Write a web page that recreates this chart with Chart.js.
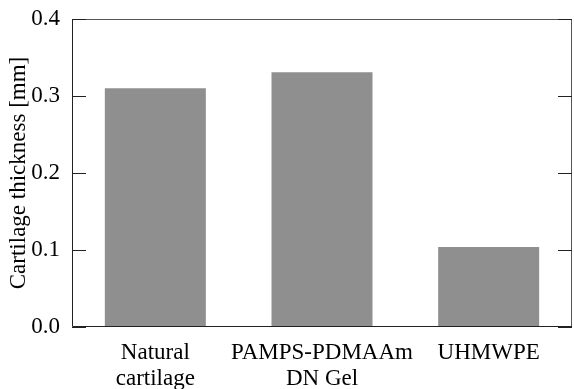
<!DOCTYPE html>
<html>
<head>
<meta charset="utf-8">
<script src="https://cdn.jsdelivr.net/npm/chart.js@4/dist/chart.umd.min.js"></script>
<style>
html,body{margin:0;padding:0;background:#fff;}
#wrap{width:574px;height:389px;position:relative;}
</style>
</head>
<body>
<div id="wrap"><canvas id="c" width="574" height="389"></canvas></div>
<script>
const categories = [["Natural", "cartilage"], ["PAMPS-PDMAAm", "DN Gel"], ["UHMWPE"]];
const thickness = [0.310, 0.331, 0.104];
const yTicks = [0.0, 0.1, 0.2, 0.3, 0.4];
const yTitle = "Cartilage thickness [mm]";

const SERIF = "'Liberation Serif', 'DejaVu Serif', serif";

const frame = {
  id: 'frame',
  afterDatasetsDraw(chart) {
    const {ctx, chartArea: a, scales} = chart;
    ctx.save();
    ctx.lineWidth = 1;
    ctx.strokeStyle = '#555';
    ctx.beginPath();
    ctx.moveTo(a.left, a.top + 0.5); ctx.lineTo(a.right - 0.5, a.top + 0.5); ctx.lineTo(a.right - 0.5, a.bottom);
    ctx.stroke();
    ctx.strokeStyle = '#222';
    ctx.beginPath();
    ctx.moveTo(a.left + 0.5, a.top); ctx.lineTo(a.left + 0.5, a.bottom - 0.5); ctx.lineTo(a.right, a.bottom - 0.5);
    ctx.stroke();
    const y = scales.y;
    yTicks.forEach(v => {
      const py = Math.round(y.getPixelForValue(v)) + 0.5;
      ctx.beginPath();
      ctx.moveTo(a.left, py); ctx.lineTo(a.left + 14, py);
      ctx.moveTo(a.right, py); ctx.lineTo(a.right - 14, py);
      ctx.stroke();
    });
    ctx.restore();
  }
};

new Chart(document.getElementById('c'), {
  type: 'bar',
  data: {
    labels: categories,
    datasets: [{
      data: thickness,
      backgroundColor: '#8f8f8f',
      borderWidth: 0,
      barPercentage: 0.606,
      categoryPercentage: 1.0
    }]
  },
  options: {
    responsive: false,
    animation: false,
    layout: {padding: {top: 19, right: 2, left: 0, bottom: 0}},
    plugins: {legend: {display: false}, tooltip: {enabled: false}},
    scales: {
      x: {
        grid: {display: false},
        border: {display: false},
        ticks: {color: '#000', font: {family: SERIF, size: 23, lineHeight: 1.13}, padding: 5, maxRotation: 0, autoSkip: false},
        afterFit(s) { s.height = 62; }
      },
      y: {
        min: 0, max: 0.4,
        afterBuildTicks(s) { s.ticks = yTicks.map(v => ({value: v})); },
        grid: {display: false},
        border: {display: false},
        ticks: {color: '#000', font: {family: SERIF, size: 23}, padding: 4,
          callback: v => Number(v).toFixed(1)},
        title: {display: true, text: yTitle, color: '#000', font: {family: SERIF, size: 23}, padding: {top: 5, bottom: 0}},
        afterFit(s) { s.width = 72; }
      }
    }
  },
  plugins: [frame]
});
</script>
</body>
</html>
